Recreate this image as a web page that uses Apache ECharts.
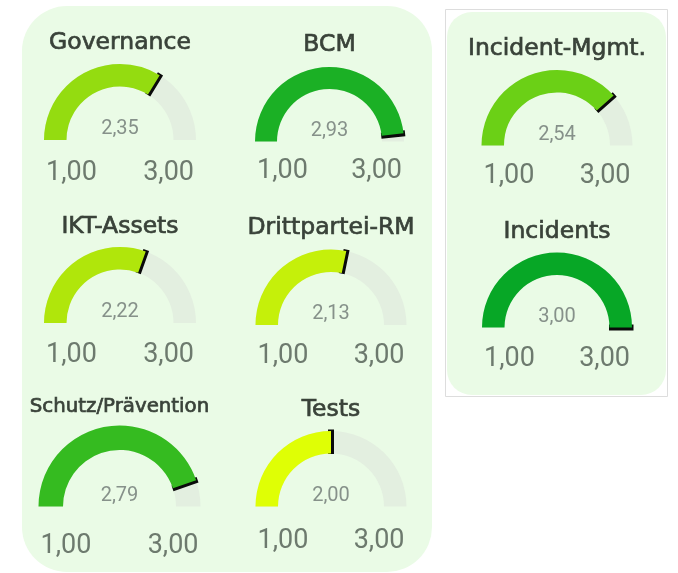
<!DOCTYPE html>
<html><head><meta charset="utf-8">
<script src="https://cdn.jsdelivr.net/npm/echarts@6/dist/echarts.min.js"></script>
<style>html,body{margin:0;padding:0;background:#fff}#c{width:678px;height:573px}</style>
</head><body><div id="c"></div>
<script>
// ---- data ----
const categories = ['Governance', 'BCM', 'IKT-Assets', 'Drittpartei-RM', 'Schutz/Prävention', 'Tests', 'Incident-Mgmt.', 'Incidents'];
const scores = [2.35, 2.93, 2.22, 2.13, 2.79, 2.00, 2.54, 3.00];
const tickValues = [1, 3];   // axis min / max, shown as "1,00" and "3,00"

// ---- style / layout (not data) ----
const bandColors = ['#94dc10', '#1bb025', '#b0e60b', '#c5f00a', '#35bb20', '#dfff05', '#6bd016', '#07a726'];
// [cx, cy, radius, bandWidth, titleDy, labelDy, titleSize]
const geom = [
  [120, 140, 76, 22.5, -99, 30, 23.5],
  [329.5, 141.5, 74.5, 22, -99, 27, 23.5],
  [120, 323, 76, 22.5, -98, 29, 23.5],
  [331, 325, 75.5, 22.5, -99, 28.5, 23.5],
  [119.5, 506.5, 81, 24.5, -102, 36.5, 19.8],
  [331, 506.5, 75.5, 22.5, -98.5, 31.5, 23.5],
  [557, 145.5, 75.5, 22.5, -98.5, 27.5, 23.5],
  [557, 327.5, 75, 22.5, -97.5, 29, 23.5]
];
const trackColor = '#e3efe0';
const panelColor = '#eafbe6';
const fmt = v => Number(v).toFixed(2).replace('.', ',');

const series = [];
categories.forEach((name, i) => {
  const [cx, cy, r, w, tdy, ldy, tsize] = geom[i];
  const L = r + 1.5;
  const h = (100 * (w + 2) / L).toFixed(2);
  const markPath = 'path://M0,0 L10,0 L10,' + h + ' L0,' + h + ' Z M4.95,99.99 L5.05,99.99 L5.05,100 L4.95,100 Z';
  series.push({
    type: 'gauge',
    center: [cx, cy],
    radius: r,
    startAngle: 180, endAngle: 0,
    min: tickValues[0], max: tickValues[1],
    splitNumber: 1,
    axisLine: { show: true, roundCap: false, lineStyle: { width: w, color: [[1, trackColor]] } },
    progress: { show: true, width: w, overlap: true, roundCap: false, itemStyle: { color: bandColors[i] } },
    pointer: { show: true, icon: markPath, length: L, width: 6, keepAspect: false, itemStyle: { color: '#0a0a0a' } },
    anchor: { show: false },
    axisTick: { show: false },
    splitLine: { show: false, length: 0 },
    axisLabel: { show: false },
    title: { show: true, offsetCenter: [0, tdy + 2], fontSize: tsize, fontFamily: 'DejaVu Sans', fontWeight: 'normal', color: '#394239', textBorderColor: '#394239', textBorderWidth: 0.7 },
    detail: { show: true, offsetCenter: [0, -11], fontSize: 20, fontFamily: 'Roboto', fontWeight: 'normal', color: '#86918a', formatter: fmt, lineHeight: 20 },
    data: [{ value: scores[i], name: name }]
  });
  // min / max tick labels
  series.push({
    type: 'gauge',
    center: [cx, cy + ldy + 3],
    radius: r,
    startAngle: 180, endAngle: 0,
    min: tickValues[0], max: tickValues[1],
    splitNumber: 1,
    axisLine: { show: false },
    progress: { show: false },
    pointer: { show: false },
    anchor: { show: false },
    axisTick: { show: false, length: 0, distance: 0 },
    splitLine: { show: false, length: 0, distance: 0 },
    axisLabel: { show: true, distance: 2, fontSize: 27, fontFamily: 'Roboto', color: '#6d7a6e', formatter: fmt },
    title: { show: false },
    detail: { show: false },
    data: [{ value: tickValues[0] }]
  });
});

const chart = echarts.init(document.getElementById('c'), null, { renderer: 'canvas' });
chart.setOption({
  animation: false,
  backgroundColor: '#ffffff',
  graphic: [
    { type: 'rect', z: -10, shape: { x: 22, y: 6, width: 410, height: 566, r: 45 }, style: { fill: panelColor } },
    { type: 'rect', z: -10, shape: { x: 445.5, y: 9.5, width: 222, height: 387 }, style: { fill: '#ffffff', stroke: '#dddddd', lineWidth: 1 } },
    { type: 'rect', z: -9, shape: { x: 447, y: 12, width: 219, height: 383, r: 25 }, style: { fill: panelColor } }
  ],
  series: series
});
</script>
</body></html>
